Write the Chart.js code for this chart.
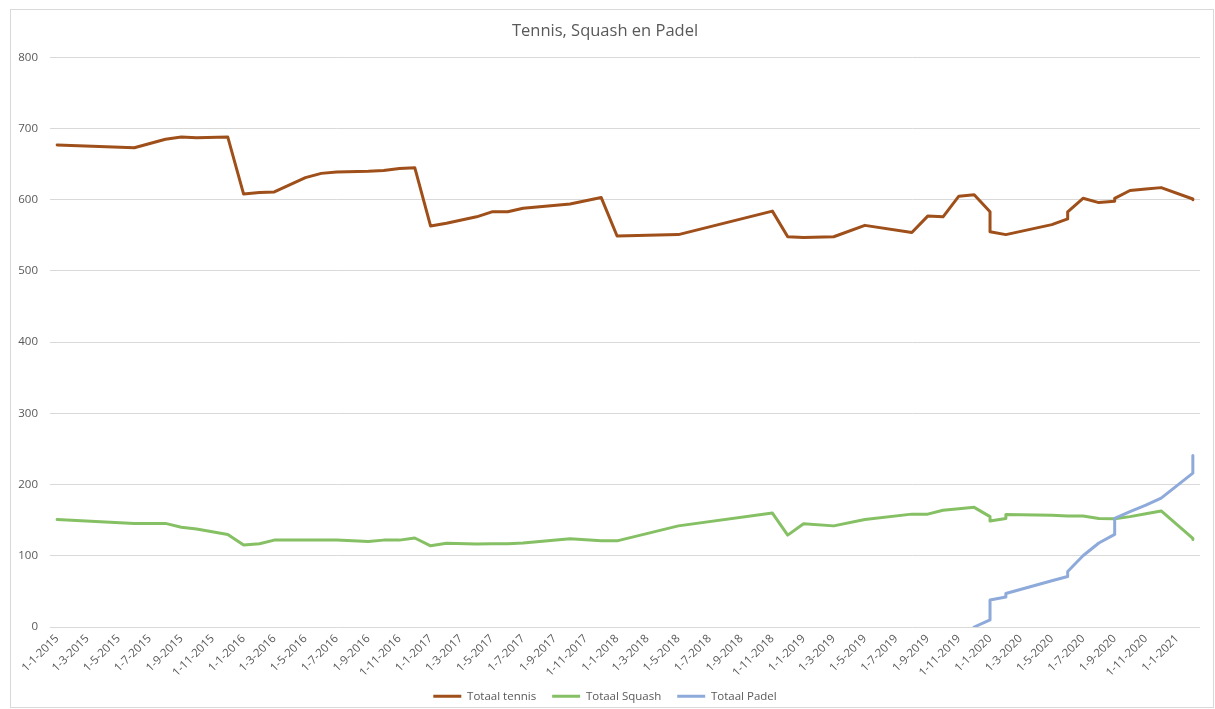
<!DOCTYPE html>
<html>
<head>
<meta charset="utf-8">
<title>Tennis, Squash en Padel</title>
<script src="https://cdn.jsdelivr.net/npm/chart.js@4.4.1/dist/chart.umd.min.js"></script>
<style>
    html, body { margin: 0; padding: 0; background: #fff; }
    #wrap { position: relative; width: 1215px; height: 709px; }
</style>
</head>
<body>
<div id="wrap"><canvas id="sportChart" width="1215" height="709"></canvas></div>
<script>
// peildata (dubbele datum = sprong op dezelfde dag)
var dates = [
    '2015-01-01', '2015-06-01', '2015-08-01', '2015-09-01', '2015-10-01', '2015-12-01',
    '2016-01-01', '2016-02-01', '2016-03-01', '2016-05-01', '2016-06-01', '2016-07-01',
    '2016-09-01', '2016-10-01', '2016-11-01', '2016-12-01',
    '2017-01-01', '2017-02-01', '2017-04-01', '2017-05-01', '2017-06-01', '2017-07-01',
    '2017-10-01', '2017-12-01',
    '2018-01-01', '2018-05-01', '2018-11-01', '2018-12-01',
    '2019-01-01', '2019-03-01', '2019-05-01', '2019-08-01', '2019-09-01', '2019-10-01',
    '2019-11-01', '2019-12-01',
    '2020-01-01', '2020-01-01', '2020-02-01', '2020-02-01', '2020-05-01', '2020-06-01',
    '2020-06-01', '2020-07-01', '2020-08-01', '2020-09-01', '2020-09-01', '2020-10-01',
    '2020-11-01', '2020-12-01',
    '2021-02-01', '2021-02-01'
];

var tennis = [
    677, 673, 685, 688, 687, 688,
    608, 610, 611, 631, 637, 639, 640, 641, 644, 645,
    563, 567, 576, 583, 583, 588, 594, 603,
    549, 551, 584, 548,
    547, 548, 564, 554, 577, 576, 605, 607,
    583, 555, 551, 551, 565, 573, 583, 602, 596, 598, 602, 613, 615, 617,
    601, 600
];

var squash = [
    151, 145.5, 145.5, 140, 137.5, 130,
    115, 117, 122, 122, 122, 122, 120, 122, 122, 125,
    114, 117.5, 116.5, 117, 117, 118, 124, 121,
    121, 142, 160, 129,
    145, 142, 151, 158.5, 158.5, 164, 166, 168,
    155, 149, 152.5, 158, 157, 156, 156, 156, 152.5, 152, 152, 155, 159, 163,
    124.5, 123
];

var padel = [
    null, null, null, null, null, null,
    null, null, null, null, null, null, null, null, null, null,
    null, null, null, null, null, null, null, null,
    null, null, null, null,
    null, null, null, null, null, null, null, 0,
    10, 38, 42, 47, 65, 71, 78, 100, 118, 130, 152.5, 162, 171, 181,
    216, 241
];

var tickLabels = [
    '1-1-2015', '1-3-2015', '1-5-2015', '1-7-2015', '1-9-2015', '1-11-2015',
    '1-1-2016', '1-3-2016', '1-5-2016', '1-7-2016', '1-9-2016', '1-11-2016',
    '1-1-2017', '1-3-2017', '1-5-2017', '1-7-2017', '1-9-2017', '1-11-2017',
    '1-1-2018', '1-3-2018', '1-5-2018', '1-7-2018', '1-9-2018', '1-11-2018',
    '1-1-2019', '1-3-2019', '1-5-2019', '1-7-2019', '1-9-2019', '1-11-2019',
    '1-1-2020', '1-3-2020', '1-5-2020', '1-7-2020', '1-9-2020', '1-11-2020',
    '1-1-2021'
];

var textColor = '#595959';
var fontFamily = "'Open Sans', 'Noto Sans', sans-serif";

// dagen sinds 1-1-2015
function dayNum(s) {
    var p = s.split('-');
    return (Date.UTC(+p[0], +p[1] - 1, +p[2]) - Date.UTC(2015, 0, 1)) / 86400000;
}
function labelDay(l) {
    var p = l.split('-');
    return dayNum(p[2] + '-' + p[1] + '-' + p[0]);
}
function points(values) {
    return dates.map(function (d, i) {
        return { x: dayNum(d), y: values[i] };
    });
}

var chartBorder = {
    id: 'chartBorder',
    beforeDraw: function (chart) {
        var ctx = chart.ctx;
        ctx.save();
        ctx.strokeStyle = '#d9d9d9';
        ctx.lineWidth = 1;
        ctx.strokeRect(10.5, 9.5, 1203, 698);
        ctx.restore();
    }
};

var lineStyle = {
    borderWidth: 3,
    pointRadius: 0,
    tension: 0,
    fill: false,
    spanGaps: true,
    borderJoinStyle: 'round',
    borderCapStyle: 'round'
};

document.addEventListener("DOMContentLoaded", function () {
    var ctx = document.getElementById('sportChart').getContext('2d');

    new Chart(ctx, {
        type: 'line',
        data: {
            datasets: [
                Object.assign({ label: 'Totaal tennis', data: points(tennis), borderColor: '#9f4f1a', backgroundColor: '#9f4f1a', order: 2 }, lineStyle),
                Object.assign({ label: 'Totaal Squash', data: points(squash), borderColor: '#86c064', backgroundColor: '#86c064', order: 1 }, lineStyle),
                Object.assign({ label: 'Totaal Padel', data: points(padel), borderColor: '#8eaadb', backgroundColor: '#8eaadb', order: 0 }, lineStyle)
            ]
        },
        options: {
            responsive: false,
            animation: false,
            devicePixelRatio: 1,
            layout: { padding: { left: 10, right: 15, top: 10, bottom: -3 } },
            scales: {
                x: {
                    type: 'linear',
                    min: -14,
                    max: 2237,
                    afterBuildTicks: function (scale) {
                        scale.ticks = tickLabels.map(function (l) { return { value: labelDay(l) }; });
                    },
                    afterFit: function (scale) { scale.height = 47.5; },
                    grid: { display: false, drawTicks: false },
                    border: { display: false },
                    ticks: {
                        autoSkip: false,
                        maxRotation: 45,
                        minRotation: 45,
                        padding: 5,
                        color: textColor,
                        font: { family: fontFamily, size: 11.5 },
                        callback: function (value, index) { return tickLabels[index]; }
                    }
                },
                y: {
                    min: 0,
                    max: 800,
                    afterFit: function (scale) { scale.width = 40; },
                    grid: { color: '#d9d9d9', lineWidth: 1, drawTicks: false },
                    border: { display: false },
                    ticks: {
                        stepSize: 100,
                        padding: 12,
                        color: textColor,
                        font: { family: fontFamily, size: 11.5 }
                    }
                }
            },
            plugins: {
                title: {
                    display: true,
                    text: 'Tennis, Squash en Padel',
                    color: textColor,
                    font: { family: fontFamily, size: 16.5, weight: 'normal' },
                    padding: { top: 11, bottom: 16.5 }
                },
                legend: {
                    position: 'bottom',
                    labels: {
                        usePointStyle: true,
                        pointStyle: 'line',
                        pointStyleWidth: 28,
                        padding: 16,
                        color: textColor,
                        font: { family: fontFamily, size: 11.5 },
                        sort: function (a, b) { return a.datasetIndex - b.datasetIndex; }
                    }
                },
                tooltip: { enabled: false }
            }
        },
        plugins: [chartBorder]
    });
});
</script>
</body>
</html>
